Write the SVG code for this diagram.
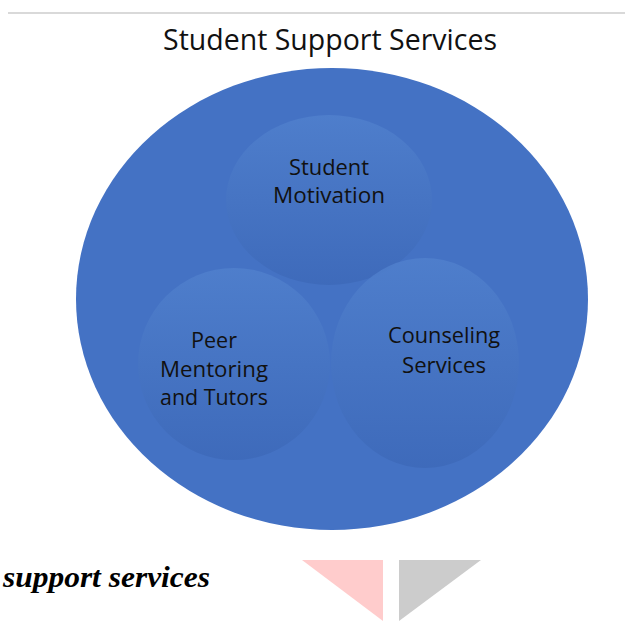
<svg xmlns="http://www.w3.org/2000/svg" width="625" height="621" viewBox="0 0 625 621">
<defs>
<linearGradient id="g" x1="0" y1="0" x2="0" y2="1">
<stop offset="0" stop-color="#5080cd"/>
<stop offset="1" stop-color="#3d69b9"/>
</linearGradient>
<style>
.lbl{font-family:"Open Sans","Liberation Sans",sans-serif;font-size:22px;fill:#111;text-anchor:middle}
.sub{fill:url(#g);opacity:0.85}
</style>
</defs>
<rect width="625" height="621" fill="#fff"/>
<line x1="8" y1="13" x2="625" y2="13" stroke="#d9d9d9" stroke-width="2"/>
<text x="330" y="50" style="font-family:'Open Sans','Liberation Sans',sans-serif;font-size:29px;fill:#111" text-anchor="middle" textLength="334" lengthAdjust="spacingAndGlyphs">Student Support Services</text>
<g id="outer"><ellipse cx="332" cy="299" rx="256" ry="231" fill="#4472c4"/></g>
<g id="motivation">
<ellipse class="sub" cx="329" cy="200" rx="103" ry="85"/>
<text class="lbl" x="329" y="175" textLength="80" lengthAdjust="spacingAndGlyphs">Student</text>
<text class="lbl" x="329" y="203" textLength="112" lengthAdjust="spacingAndGlyphs">Motivation</text>
</g>
<g id="peer">
<ellipse class="sub" cx="234" cy="364" rx="96" ry="96"/>
<text class="lbl" x="214" y="348" textLength="46" lengthAdjust="spacingAndGlyphs">Peer</text>
<text class="lbl" x="214" y="377" textLength="108" lengthAdjust="spacingAndGlyphs">Mentoring</text>
<text class="lbl" x="214" y="405" textLength="108" lengthAdjust="spacingAndGlyphs">and Tutors</text>
</g>
<g id="counseling">
<ellipse class="sub" cx="425" cy="363" rx="94" ry="105"/>
<text class="lbl" x="444" y="343" textLength="112" lengthAdjust="spacingAndGlyphs">Counseling</text>
<text class="lbl" x="444" y="373" textLength="84" lengthAdjust="spacingAndGlyphs">Services</text>
</g>
<g id="connectors"/>
<text x="3" y="587" textLength="207" lengthAdjust="spacingAndGlyphs" style="font-family:'Liberation Serif',serif;font-size:30px;font-weight:bold;font-style:italic;fill:#000">support services</text>
<polygon points="302,560 383,560 383,621" fill="#ffcccc"/>
<polygon points="399,560 481,560 399,621" fill="#cccccc"/>
</svg>
